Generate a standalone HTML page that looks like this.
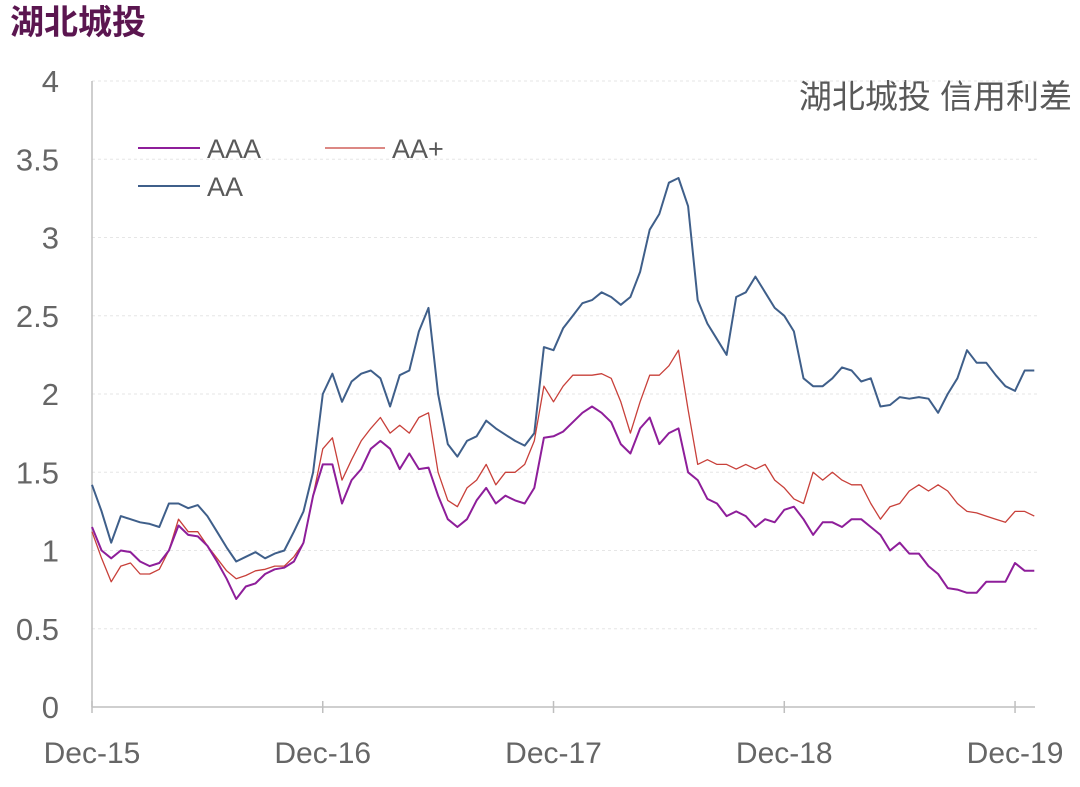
<!DOCTYPE html>
<html><head><meta charset="utf-8"><style>
body{margin:0;background:#fff;}
svg text{font-family:"Liberation Sans","Noto Sans CJK SC",sans-serif;}
</style></head><body>
<svg width="1080" height="782" viewBox="0 0 1080 782">
<text x="10" y="34" font-size="34" font-weight="bold" fill="#5b1650">湖北城投</text>
<text x="1072" y="108" font-size="33" fill="#595959" text-anchor="end">湖北城投 信用利差</text>
<g id="grid"></g><g id="axes"></g><g id="series"></g>
<g>
<line x1="138" y1="148" x2="200" y2="148" stroke="#8e1e9a" stroke-width="2"/>
<text x="207" y="158" font-size="27" fill="#595959">AAA</text>
<line x1="325" y1="148" x2="385" y2="148" stroke="#c8403a" stroke-width="1.3"/>
<text x="392" y="158" font-size="27" fill="#595959">AA+</text>
<line x1="138" y1="186" x2="200" y2="186" stroke="#3f5f8a" stroke-width="2"/>
<text x="207" y="196" font-size="27" fill="#595959">AA</text>
</g>
</svg>
<script>
const yTicks=[0,0.5,1,1.5,2,2.5,3,3.5,4];
const yTickLabels=["0","0.5","1","1.5","2","2.5","3","3.5","4"];
const xTickMonths=[0,12,24,36,48];
const xTickLabels=["Dec-15","Dec-16","Dec-17","Dec-18","Dec-19"];
const monthsStep=0.5;
const aa=[1.42,1.25,1.05,1.22,1.2,1.18,1.17,1.15,1.3,1.3,1.27,1.29,1.22,1.12,1.02,0.93,0.96,0.99,0.95,0.98,1.0,1.12,1.25,1.5,2.0,2.13,1.95,2.08,2.13,2.15,2.1,1.92,2.12,2.15,2.4,2.55,2.0,1.68,1.6,1.7,1.73,1.83,1.78,1.74,1.7,1.67,1.75,2.3,2.28,2.42,2.5,2.58,2.6,2.65,2.62,2.57,2.62,2.78,3.05,3.15,3.35,3.38,3.2,2.6,2.45,2.35,2.25,2.62,2.65,2.75,2.65,2.55,2.5,2.4,2.1,2.05,2.05,2.1,2.17,2.15,2.08,2.1,1.92,1.93,1.98,1.97,1.98,1.97,1.88,2.0,2.1,2.28,2.2,2.2,2.12,2.05,2.02,2.15,2.15];
const aaPlus=[1.12,0.95,0.8,0.9,0.92,0.85,0.85,0.88,1.0,1.2,1.12,1.12,1.03,0.95,0.87,0.82,0.84,0.87,0.88,0.9,0.9,0.96,1.05,1.35,1.65,1.72,1.45,1.58,1.7,1.78,1.85,1.75,1.8,1.75,1.85,1.88,1.5,1.32,1.28,1.4,1.45,1.55,1.42,1.5,1.5,1.55,1.7,2.05,1.95,2.05,2.12,2.12,2.12,2.13,2.1,1.95,1.75,1.95,2.12,2.12,2.18,2.28,1.9,1.55,1.58,1.55,1.55,1.52,1.55,1.52,1.55,1.45,1.4,1.33,1.3,1.5,1.45,1.5,1.45,1.42,1.42,1.3,1.2,1.28,1.3,1.38,1.42,1.38,1.42,1.38,1.3,1.25,1.24,1.22,1.2,1.18,1.25,1.25,1.22];
const aaa=[1.15,1.0,0.95,1.0,0.99,0.93,0.9,0.92,1.0,1.16,1.1,1.09,1.03,0.93,0.82,0.69,0.77,0.79,0.85,0.88,0.89,0.93,1.05,1.35,1.55,1.55,1.3,1.45,1.52,1.65,1.7,1.65,1.52,1.62,1.52,1.53,1.35,1.2,1.15,1.2,1.32,1.4,1.3,1.35,1.32,1.3,1.4,1.72,1.73,1.76,1.82,1.88,1.92,1.88,1.82,1.68,1.62,1.78,1.85,1.68,1.75,1.78,1.5,1.45,1.33,1.3,1.22,1.25,1.22,1.15,1.2,1.18,1.26,1.28,1.2,1.1,1.18,1.18,1.15,1.2,1.2,1.15,1.1,1.0,1.05,0.98,0.98,0.9,0.85,0.76,0.75,0.73,0.73,0.8,0.8,0.8,0.92,0.87,0.87];
const NS="http://www.w3.org/2000/svg";
const X0=92,PXM=19.23,Y0=707,PXV=156.5;
function xs(m){return X0+m*PXM;}
function ys(v){return Y0-v*PXV;}
function mk(tag,attrs,parent){const e=document.createElementNS(NS,tag);for(const k in attrs)e.setAttribute(k,attrs[k]);document.getElementById(parent).appendChild(e);return e;}
yTicks.forEach((t,i)=>{
  if(t>0){const g=mk('line',{x1:X0,x2:1040,y1:ys(t),y2:ys(t),stroke:'#e6e6e6','stroke-dasharray':'3,3'},'grid');
  
  }
  const tx=mk('text',{x:59,y:ys(t)+11,'font-size':31,fill:'#666','text-anchor':'end'},'axes');
  tx.textContent=yTickLabels[i];
  
  
});
const ya=mk('line',{x1:X0,x2:X0,y1:ys(4),y2:Y0,stroke:'#bfbfbf','stroke-width':1.5},'axes');


const xa=mk('line',{x1:X0,x2:1035,y1:Y0,y2:Y0,stroke:'#bfbfbf','stroke-width':1.5},'axes');


xTickMonths.forEach((m,i)=>{
  const tk=mk('line',{x1:xs(m),x2:xs(m),y1:Y0-6,y2:Y0+6,stroke:'#bfbfbf','stroke-width':1.5},'axes');
  
  
  const tx=mk('text',{x:xs(m),y:763,'font-size':30,fill:'#666','text-anchor':'middle'},'axes');
  tx.textContent=xTickLabels[i];
  
  
});
function line(arr,color,w,name){
  const d=arr.map((v,i)=>(i?'L':'M')+xs(i*monthsStep).toFixed(1)+','+ys(v).toFixed(1)).join('');
  const p=mk('path',{d:d,fill:'none',stroke:color,'stroke-width':w,'stroke-linejoin':'round'},'series');
  
  
}
line(aa,'#3f5f8a',2,'series-aa');
line(aaPlus,'#c8403a',1.3,'series-aa-plus');
line(aaa,'#8e1e9a',2,'series-aaa');
</script>
</body></html>
